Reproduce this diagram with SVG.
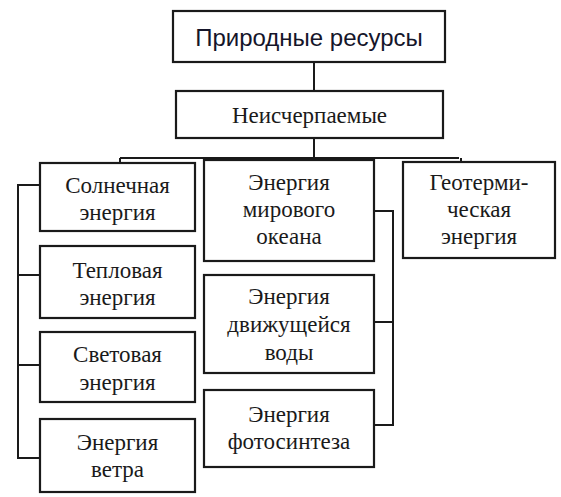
<svg xmlns="http://www.w3.org/2000/svg" width="561" height="497" viewBox="0 0 561 497">
<style>
.box{fill:#fff;stroke:#1a1a1a;stroke-width:2.2}
.ln{fill:none;stroke:#1a1a1a;stroke-width:2}
.t{font-size:23px;fill:#1a1a1a;text-anchor:middle}
.s{font-family:'Liberation Sans',Arial,sans-serif;font-size:24px;fill:#15152a;text-anchor:middle}
</style>
<rect width="561" height="497" fill="#fff"/>
<g id="connectors">
<path class="ln" d="M314 62V91M314 138V158M120 158H459M120 158V163M290 158V160M461 158V162"/>
<path class="ln" d="M40 185H18V458H40M18 275H40M18 365H40"/>
<path class="ln" d="M374 211H393V425H374M374 322H393"/>
</g>
<g id="n-root"><rect class="box" x="173" y="11" width="272" height="51"/><text class="s" x="309" y="46">Природные ресурсы</text></g>
<g font-family="Liberation Serif, DejaVu Serif, serif">
<g id="n-inexh"><rect class="box" x="176" y="91" width="267" height="47"/><text class="t" x="309.5" y="123">Неисчерпаемые</text></g>
<g id="n-solar"><rect class="box" x="40" y="163" width="155" height="68"/><text class="t" x="117.5" y="193">Солнечная</text><text class="t" x="117.5" y="220">энергия</text></g>
<g id="n-heat"><rect class="box" x="40" y="246" width="155" height="72"/><text class="t" x="117.5" y="278">Тепловая</text><text class="t" x="117.5" y="305">энергия</text></g>
<g id="n-light"><rect class="box" x="40" y="332" width="155" height="70"/><text class="t" x="117.5" y="362">Световая</text><text class="t" x="117.5" y="390">энергия</text></g>
<g id="n-wind"><rect class="box" x="40" y="419" width="155" height="73"/><text class="t" x="117.5" y="450">Энергия</text><text class="t" x="117.5" y="477">ветра</text></g>
<g id="n-ocean"><rect class="box" x="204" y="160" width="170" height="101"/><text class="t" x="289" y="190">Энергия</text><text class="t" x="289" y="217">мирового</text><text class="t" x="289" y="244">океана</text></g>
<g id="n-water"><rect class="box" x="204" y="275" width="170" height="98"/><text class="t" x="289" y="304">Энергия</text><text class="t" x="289" y="332">движущейся</text><text class="t" x="289" y="360">воды</text></g>
<g id="n-photo"><rect class="box" x="204" y="390" width="170" height="77"/><text class="t" x="289" y="422">Энергия</text><text class="t" x="289" y="449">фотосинтеза</text></g>
<g id="n-geo"><rect class="box" x="403" y="162" width="152" height="96"/><text class="t" x="479" y="190">Геотерми-</text><text class="t" x="479" y="217">ческая</text><text class="t" x="479" y="244">энергия</text></g>
</g>
</svg>
